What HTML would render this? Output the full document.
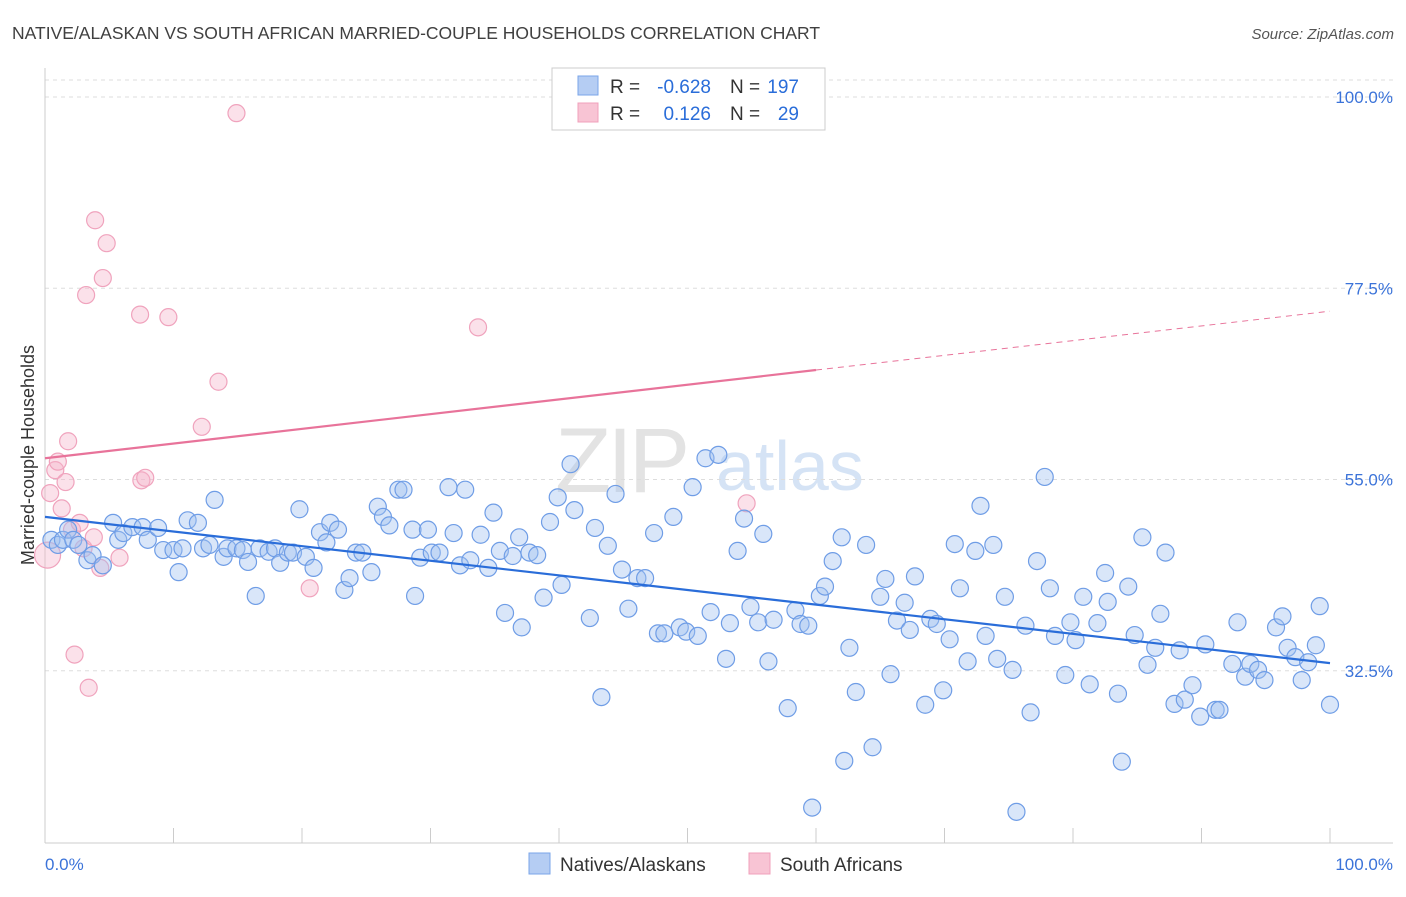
<!DOCTYPE html>
<html><head><meta charset="utf-8"><style>
body{margin:0;background:#fff;font-family:"Liberation Sans",sans-serif;}
svg text{font-family:"Liberation Sans",sans-serif;}
</style></head><body>
<svg id="chart" width="1406" height="892" viewBox="0 0 1406 892" xmlns="http://www.w3.org/2000/svg">
<text x="12" y="39" font-size="17.5" fill="#404040">NATIVE/ALASKAN VS SOUTH AFRICAN MARRIED-COUPLE HOUSEHOLDS CORRELATION CHART</text>
<text x="1394" y="39" font-size="15" fill="#555" text-anchor="end" font-style="italic">Source: ZipAtlas.com</text>
<g>
<text x="555" y="492" font-size="92" fill="#e3e3e3" font-family="Liberation Serif" letter-spacing="-4">ZIP</text>
<text x="716" y="490" font-size="70" fill="#d5e3f5">atlas</text>
</g>
<g id="grid"></g>
<g id="axes"></g>
<g id="pink"></g>
<g id="blue"></g>
<g id="trends"></g>
<g>
<rect x="552" y="68" width="273" height="62" fill="#fff" stroke="#ccc"/>
<rect x="578" y="76" width="20" height="19" fill="#b5cdf3" stroke="#7aa5e8"/>
<rect x="578" y="103" width="20" height="19" fill="#f8c4d4" stroke="#f0a0bb"/>
<text x="610" y="93" font-size="19" fill="#333">R =</text>
<text x="711" y="93" font-size="19" fill="#2a6dd9" text-anchor="end">-0.628</text>
<text x="730" y="93" font-size="19" fill="#333">N =</text>
<text x="799" y="93" font-size="19" fill="#2a6dd9" text-anchor="end">197</text>
<text x="610" y="120" font-size="19" fill="#333">R =</text>
<text x="711" y="120" font-size="19" fill="#2a6dd9" text-anchor="end">0.126</text>
<text x="730" y="120" font-size="19" fill="#333">N =</text>
<text x="799" y="120" font-size="19" fill="#2a6dd9" text-anchor="end">29</text>
</g>
<g>
<rect x="529" y="853" width="21" height="21" fill="#b5cdf3" stroke="#7aa5e8"/>
<text x="560" y="871" font-size="19" fill="#333">Natives/Alaskans</text>
<rect x="749" y="853" width="21" height="21" fill="#f8c4d4" stroke="#f0a0bb"/>
<text x="780" y="871" font-size="19" fill="#333">South Africans</text>
</g>
<text transform="translate(34,455) rotate(-90)" font-size="18" fill="#333" text-anchor="middle">Married-couple Households</text>
</svg>
<script>
const blueX=[0.5,1.0,1.4,1.8,2.2,2.6,3.3,3.7,4.5,5.3,5.7,6.1,6.8,7.6,8.0,8.8,9.2,10.0,10.4,10.7,11.1,11.9,12.3,12.8,13.2,13.9,14.2,14.9,15.4,15.8,16.4,16.7,17.4,17.9,18.3,18.9,19.3,19.8,20.3,20.9,21.4,21.9,22.2,22.8,23.3,23.7,24.2,24.7,25.4,25.9,26.3,26.8,27.5,27.9,28.6,28.8,29.2,29.8,30.1,30.7,31.4,31.8,32.3,32.7,33.1,33.9,34.5,34.9,35.4,35.8,36.4,36.9,37.1,37.7,38.3,38.8,39.3,39.9,40.2,40.9,41.2,42.4,42.8,43.3,43.8,44.4,44.9,45.4,46.1,46.7,47.4,47.7,48.2,48.9,49.4,49.9,50.4,50.8,51.4,51.8,52.4,53.0,53.3,53.9,54.4,54.9,55.5,55.9,56.3,56.7,57.8,58.4,58.8,59.4,59.7,60.3,60.7,61.3,62.0,62.2,62.6,63.1,63.9,64.4,65.0,65.4,65.8,66.3,66.9,67.3,67.7,68.5,68.9,69.4,69.9,70.4,70.8,71.2,71.8,72.4,72.8,73.2,73.8,74.1,74.7,75.3,75.6,76.3,76.7,77.2,77.8,78.2,78.6,79.4,79.8,80.2,80.8,81.3,81.9,82.5,82.7,83.5,83.8,84.3,84.8,85.4,85.8,86.4,86.8,87.2,87.9,88.3,88.7,89.3,89.9,90.3,91.1,91.4,92.4,92.8,93.4,93.8,94.4,94.9,95.8,96.3,96.7,97.3,97.8,98.3,98.9,99.2,100];
const blueY=[47.9,47.3,47.9,49.1,47.9,47.3,45.5,46.1,44.9,49.9,47.9,48.7,49.4,49.4,47.9,49.3,46.7,46.7,44.1,46.9,50.2,49.9,46.9,47.3,52.6,45.9,46.9,46.9,46.7,45.3,41.3,46.9,46.5,46.9,45.2,46.4,46.4,51.5,45.9,44.6,48.8,47.6,49.9,49.1,42.0,43.4,46.4,46.4,44.1,51.8,50.6,49.6,53.8,53.8,49.1,41.3,45.8,49.1,46.4,46.4,54.1,48.7,44.9,53.8,45.5,48.5,44.6,51.1,46.6,39.3,46.0,48.2,37.6,46.4,46.1,41.1,50.0,52.9,42.6,56.8,51.4,38.7,49.3,29.4,47.2,53.3,44.4,39.8,43.4,43.4,48.7,36.9,36.9,50.6,37.6,37.1,54.1,36.6,57.5,39.4,57.9,33.9,38.1,46.6,50.4,40.0,38.2,48.6,33.6,38.5,28.1,39.6,38.0,37.8,16.4,41.3,42.4,45.4,48.2,21.9,35.2,30.0,47.3,23.5,41.2,43.3,32.1,38.4,40.5,37.3,43.6,28.5,38.6,38.0,30.2,36.2,47.4,42.2,33.6,46.6,51.9,36.6,47.3,33.9,41.2,32.6,15.9,37.8,27.6,45.4,55.3,42.2,36.6,32.0,38.2,36.1,41.2,30.9,38.1,44.0,40.6,29.8,21.8,42.4,36.7,48.2,33.2,35.2,39.2,46.4,28.6,34.9,29.1,30.8,27.1,35.6,27.9,27.9,33.3,38.2,31.8,33.3,32.6,31.4,37.6,38.9,35.2,34.1,31.4,33.5,35.5,40.1,28.5];
const pinkX=[0.2,0.4,0.8,1.0,1.3,1.6,1.8,2.1,2.3,2.7,3.0,3.2,3.4,3.8,3.9,4.3,4.5,4.8,5.8,7.4,7.5,7.8,9.6,12.2,13.5,14.9,20.6,33.7,54.6];
const pinkY=[46.1,53.4,56.1,57.1,51.6,54.7,59.5,49.1,34.4,49.9,46.9,76.7,30.5,48.2,85.5,44.6,78.7,82.8,45.8,74.4,54.9,55.2,74.1,61.2,66.5,98.1,42.2,72.9,52.2];
const trendBlue=[50.6,33.4];
const trendPink=[57.5,74.8];
const yTicks=[100,77.5,55,32.5];
const yTickLabels=["100.0%","77.5%","55.0%","32.5%"];
const xTicks=[0,10,20,30,40,50,60,70,80,90,100];

const NS="http://www.w3.org/2000/svg";
const sx=v=>45+v*12.85;
const sy=v=>97+(100-v)*8.5;
function mk(tag,attrs,parent){const e=document.createElementNS(NS,tag);for(const k in attrs)e.setAttribute(k,attrs[k]);parent.appendChild(e);return e;}
const gridG=document.getElementById('grid'),axesG=document.getElementById('axes');
const topLine=mk('line',{x1:45,x2:1393,y1:80,y2:80,stroke:'#ddd','stroke-dasharray':'4,4'},gridG);


yTicks.forEach((t,i)=>{
 const l=mk('line',{x1:45,x2:1393,y1:sy(t),y2:sy(t),stroke:'#ddd','stroke-dasharray':'4,4'},gridG);
 
 
 const tx=mk('text',{x:1393,y:sy(t)+6,'font-size':17,fill:'#3b73d9','text-anchor':'end'},axesG);
 tx.textContent=yTickLabels[i];
 
 
});
const ya=mk('line',{x1:45,x2:45,y1:68,y2:843,stroke:'#ccc'},axesG);


const xa=mk('line',{x1:45,x2:1393,y1:843,y2:843,stroke:'#ccc'},axesG);


xTicks.forEach(t=>{
 const l=mk('line',{x1:sx(t),x2:sx(t),y1:828,y2:843,stroke:'#ccc'},axesG);
 
 
});
const xl0=mk('text',{x:45,y:870,'font-size':17,fill:'#3b73d9'},axesG);xl0.textContent='0.0%';


const xl1=mk('text',{x:1393,y:870,'font-size':17,fill:'#3b73d9','text-anchor':'end'},axesG);xl1.textContent='100.0%';



const pg=document.getElementById('pink');
pinkX.forEach((x,i)=>{
 const c=mk('circle',{cx:sx(x),cy:sy(pinkY[i]),r:i==0?13:8.5,fill:'rgba(246,180,202,0.4)',stroke:'#f0a3bd','stroke-width':1.2},pg);
 
 
});
const bg=document.getElementById('blue');
blueX.forEach((x,i)=>{
 const c=mk('circle',{cx:sx(x),cy:sy(blueY[i]),r:8.5,fill:'rgba(160,192,240,0.4)',stroke:'#6f9de6','stroke-width':1.2},bg);
 
 
});
const tg=document.getElementById('trends');
const lerp=(a,x)=>a[0]+(a[1]-a[0])*x/100;
const bl=mk('line',{x1:sx(0),y1:sy(trendBlue[0]),x2:sx(100),y2:sy(trendBlue[1]),stroke:'#2a6dd9','stroke-width':2.2},tg);


const pl=mk('line',{x1:sx(0),y1:sy(trendPink[0]),x2:sx(60),y2:sy(lerp(trendPink,60)),stroke:'#e8739a','stroke-width':2.2},tg);


const pd=mk('line',{x1:sx(60),y1:sy(lerp(trendPink,60)),x2:sx(100),y2:sy(trendPink[1]),stroke:'#e8739a','stroke-width':1,'stroke-dasharray':'6,5'},tg);


</script>
</body></html>
